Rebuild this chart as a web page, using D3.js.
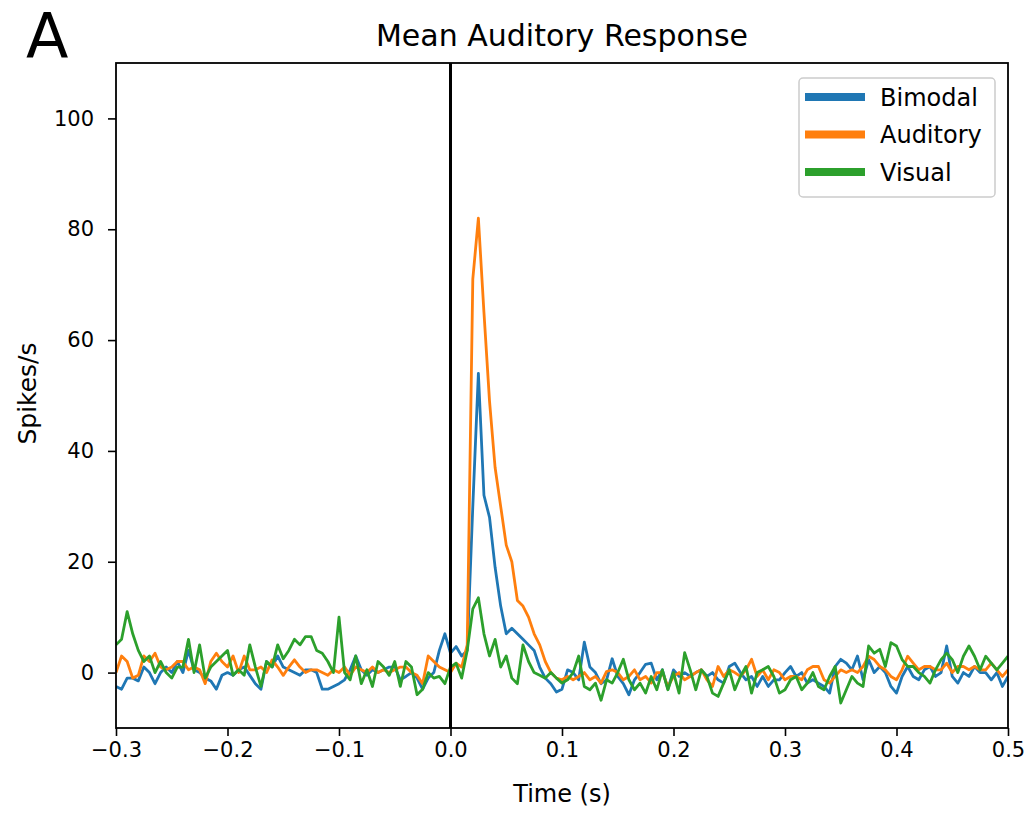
<!DOCTYPE html>
<html>
<head>
<meta charset="utf-8">
<script src="https://cdn.jsdelivr.net/npm/d3@7"></script>
<style>
  body { margin: 0; background: #fff; }
  svg text { font-family: "DejaVu Sans", sans-serif; fill: #000; }
</style>
</head>
<body>
<div id="chart"></div>
<script>
// PSTH bins, 5 ms wide, from -0.3 s to 0.5 s
var binStart = -0.3, binWidth = 0.005, nBins = 161
var times = d3.range(nBins).map(function(i) { return +(binStart + i * binWidth).toFixed(3) })

var seriesNames = ["Bimodal", "Auditory", "Visual"]
var seriesColors = ["#1f77b4", "#ff7f0e", "#2ca02c"]

// spikes/s
var bimodal = [
  -2.5, -3, -1, -1, -1.5, 1, 0, -2, 0, 1, 0, 2, 0, 4, 0.5, 0, -1, -1.5, -3, -0.5,
  0, -0.5, 0.5, 1, -0.5, -2, -3, 2, 1, 3, 1, 0.5, 0, -0.5, 0.5, 0.5, 0, -3, -3, -2.5,
  -2, -1.3, 0.5, 3, 0.5, -0.5, 0.5, 0, 0.5, 1, 1, -1.3, -0.7, 0, -1, -3, -1, 0, 4, 7,
  3.5, 4.7, 3, 4, 30, 54, 32, 28, 19, 12, 7, 8, 7, 6, 5, 4, 1, -1, -2, -3.5,
  -3, 0.5, 0, -1.3, 5.5, 1, 0, -2, -1.3, 2.5, -0.7, -2, -4, -1.3, 0, 1.5, 1.7, -1.3, 0.5, -3,
  0.5, -0.7, 0, -0.7, 0, 0.5, -0.7, 0, -1.3, -1.9, 1.1, 1.7, 0, -1.3, -0.7, -2.5, -0.7, -2.5, -1.3, -1.3,
  0, 1.1, -0.7, 0, -1.9, -1.3, -1.9, -2.5, -3.7, 1.1, 2.4, 1.7, 0.5, 3, -1.3, 2.35, 0, 1.1, 0, -2.5,
  -3.7, -0.7, 1.1, -0.7, -1.3, 0.5, 1.1, -0.7, 0, 4.8, -0.7, -1.9, 0, -0.7, 1.1, 0, 0, -1.3, 0, -2.5, -0.7
]
var auditory = [
  0, 3, 2, -1, -0.5, 3, 2, 3.5, 1, 0.5, 1, 2, 2, 0.5, 1, 0.5, -2, 2, 3.5, 2,
  1, 3, 0, 3, 0.5, 0.5, 1, 0, 2.3, 1, -0.5, 1, 2.3, 1, 0, 0.5, 0.5, 0, -0.5, 0.5,
  0, 1, -0.5, 1, 0.5, 0, 1, 0, 0.5, 0, 0.5, 1, 1, 0, -0.5, -2, 3, 2, 1, 0.5,
  0, 1.7, 1, 5, 71, 82, 65, 49, 37, 30, 23, 20, 13, 12, 10, 7, 5, 2, 0, -1,
  -1.3, -0.7, -1.3, -0.7, 0, -1.3, -0.7, -1.9, 0.2, 0.5, 0, -1.3, -0.7, 0.5, -1.3, -0.7, -1.9, 0, 0, -2.5,
  -0.7, 0, -1.3, -0.7, 0, 0.5, -1.3, -2.5, 1.1, -0.7, 0.5, 0, -0.7, 0.5, 2.4, -0.7, 0.5, -1.3, 0.5, 0,
  -1.3, -0.7, -0.7, -1.3, 0.5, 1.1, 1.1, -1.3, -1.9, -0.7, 0.5, 0, 0.5, 0, 1.1, 2.95, 2.35, 1.1, 0.5, -0.7,
  -1.3, 0.5, 2.95, 1.7, 0.5, 1.1, 1.1, 0.5, 0.5, 1.7, 0, 1.1, 1.1, 0.5, 1.1, 0.5, 0.5, 1.7, 0.5, -0.7, 0.5
]
var visual = [
  5, 6, 11, 7, 4, 2, 3, 0, 2, 0, -1, 1, 1, 6, 0, 5, -1, 1, 2, 3,
  4, -0.5, 0.5, -0.5, 5, 1, -2.5, 2, 1, 5, 2.5, 4, 6, 5, 6.5, 6.5, 4, 3.5, 2, 0,
  10, 0, -1.3, 3, -2, 0.5, -2.5, 2, 1, -0.5, 2, -2.5, 2, 1, -4, -3, 0, -1, -0.7, -2,
  1, 1.7, -1, 4, 11.5, 13.5, 7, 3, 6, 1, 3, -1, -2, 5, 2, 0, -0.5, -1, 0, -1,
  -1.9, -1.3, 0, 3, -2.5, -3.1, -1.9, -5, -1.3, -1.9, 0, 2.4, -1.3, -3.1, -1.9, -3.7, -0.7, -3.1, 0.5, -3.1,
  0, -3.7, 3.6, 0.5, -3.1, 0.5, -0.7, -3.7, -4.3, -1.9, 0.5, -3.1, -0.7, 1.1, -3.7, 0, 0.5, 1.1, -0.7, -3.7,
  -3.1, -1.3, -0.7, -3.1, -1.9, 0, -2.5, -3.1, -0.7, 1.1, -5.5, -3.1, -0.7, -1.9, -2.5, 4.8, 3.5, 4.2, 1.1, 5.4,
  4.8, 2.35, 1.1, 1.1, 0, -0.7, -1.9, 0.5, 2.35, 3.5, 2.35, 0, 2.95, 4.8, 2.95, 0.5, 2.95, 1.7, 0.5, 1.7, 2.95
]

var xTicks = [-0.3, -0.2, -0.1, 0.0, 0.1, 0.2, 0.3, 0.4, 0.5]
var yTicks = [0, 20, 40, 60, 80, 100]

var width = 1033,
    height = 813
var margin = {top: 63, right: 25, bottom: 85, left: 116}
var innerW = width - margin.left - margin.right,
    innerH = height - margin.top - margin.bottom

var svg = d3.select("#chart")
  .append("svg")
    .attr("width", width)
    .attr("height", height)

var x = d3.scaleLinear().domain([-0.3, 0.5]).range([0, innerW])
var y = d3.scaleLinear().domain([-10, 110]).range([innerH, 0])

var g = svg.append("g")
    .attr("transform", "translate(" + margin.left + "," + margin.top + ")")

g.append("clipPath").attr("id", "clip")
  .append("rect").attr("width", innerW).attr("height", innerH)

var series = [bimodal, auditory, visual]
var line = d3.line()
    .x(function(d, i) { return x(times[i]) })
    .y(function(d) { return y(d) })

var plot = g.append("g").attr("clip-path", "url(#clip)")
series.forEach(function(s, k) {
  plot.append("path")
    .datum(s)
    .attr("fill", "none")
    .attr("stroke", seriesColors[k])
    .attr("stroke-width", 2.8)
    .attr("stroke-linejoin", "round")
    .attr("d", line)
})

// stimulus onset
plot.append("line")
    .attr("x1", x(0)).attr("x2", x(0))
    .attr("y1", 0).attr("y2", innerH)
    .attr("stroke", "#000")
    .attr("stroke-width", 3)

// axes
var xAxis = g.append("g")
    .attr("transform", "translate(0," + innerH + ")")
    .call(d3.axisBottom(x).tickValues(xTicks).tickFormat(d3.format(".1f")).tickSizeInner(8).tickSizeOuter(0).tickPadding(6))
var yAxis = g.append("g")
    .call(d3.axisLeft(y).tickValues(yTicks).tickFormat(d3.format("d")).tickSizeInner(8).tickSizeOuter(0).tickPadding(14))

;[xAxis, yAxis].forEach(function(a) {
  a.selectAll("text").style("font-size", "21px").attr("fill", "#000")
  a.selectAll("line").attr("stroke", "#000").attr("stroke-width", 1.6)
  a.select(".domain").remove()
})

// frame
g.append("rect")
    .attr("width", innerW).attr("height", innerH)
    .attr("fill", "none")
    .attr("stroke", "#000")
    .attr("stroke-width", 1.8)

// labels
svg.append("text")
    .attr("x", margin.left + innerW / 2).attr("y", 46)
    .attr("text-anchor", "middle")
    .style("font-size", "30px")
    .text("Mean Auditory Response")

svg.append("text")
    .attr("x", margin.left + innerW / 2).attr("y", 802)
    .attr("text-anchor", "middle")
    .style("font-size", "24px")
    .text("Time (s)")

svg.append("text")
    .attr("transform", "translate(36," + (margin.top + innerH / 2 - 2) + ") rotate(-90)")
    .attr("text-anchor", "middle")
    .style("font-size", "25px")
    .text("Spikes/s")

svg.append("text")
    .attr("x", 26).attr("y", 58)
    .style("font-size", "62px")
    .text("A")

// legend
var legend = svg.append("g").attr("transform", "translate(799,78)")
legend.append("rect")
    .attr("width", 196).attr("height", 119)
    .attr("rx", 4)
    .attr("fill", "#fff").attr("fill-opacity", 0.8)
    .attr("stroke", "#ccc").attr("stroke-width", 1.5)

var items = legend.selectAll(".item")
  .data(seriesNames)
  .enter().append("g")
    .attr("transform", function(d, i) { return "translate(0," + (19 + i * 37.5) + ")" })
items.append("line")
    .attr("x1", 6).attr("x2", 66)
    .attr("stroke", function(d, i) { return seriesColors[i] })
    .attr("stroke-width", 8)
items.append("text")
    .attr("x", 81).attr("y", 8.5)
    .style("font-size", "24px")
    .text(function(d) { return d })
</script>
</body>
</html>
